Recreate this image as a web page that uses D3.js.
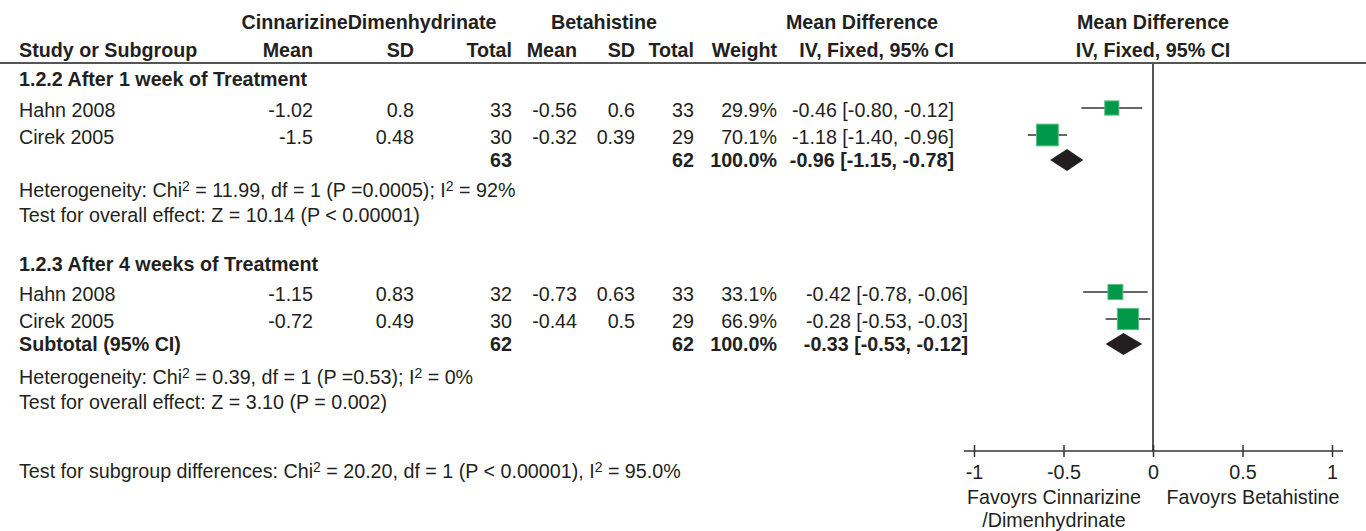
<!doctype html>
<html>
<head>
<meta charset="utf-8" />
<script src="https://d3js.org/d3.v7.min.js"></script>
<style>
  body { margin: 0; background: #fff; }
  svg text { font-family: "Liberation Sans", Arial, sans-serif; font-size: 19.7px; fill: #231f20; }
</style>
</head>
<body>
<div id="forest"></div>
<script type="text/javascript">

// ---- data ----
var groupTitles = ["1.2.2 After 1 week of Treatment", "1.2.3 After 4 weeks of Treatment"];

var studies    = ["Hahn 2008", "Cirek 2005", "Hahn 2008", "Cirek 2005"];
var studyGroup = [0, 0, 1, 1];
var cinMean  = [-1.02, -1.5, -1.15, -0.72];
var cinSD    = [0.8, 0.48, 0.83, 0.49];
var cinTotal = [33, 30, 32, 30];
var betMean  = [-0.56, -0.32, -0.73, -0.44];
var betSD    = [0.6, 0.39, 0.63, 0.5];
var betTotal = [33, 29, 33, 29];
var weights  = [29.9, 70.1, 33.1, 66.9];
var md       = [-0.46, -1.18, -0.42, -0.28];
var mdLow    = [-0.80, -1.40, -0.78, -0.53];
var mdHigh   = [-0.12, -0.96, -0.06, -0.03];

var subLabel  = ["", "Subtotal (95% CI)"];
var subCin    = [63, 62];
var subBet    = [62, 62];
var subWeight = [100, 100];
var subMd     = [-0.96, -0.33];
var subLow    = [-1.15, -0.53];
var subHigh   = [-0.78, -0.12];

var heterogeneity = ["Heterogeneity: Chi^2 = 11.99, df = 1 (P =0.0005); I^2 = 92%",
                     "Heterogeneity: Chi^2 = 0.39, df = 1 (P =0.53); I^2 = 0%"];
var overallEffect = ["Test for overall effect: Z = 10.14 (P < 0.00001)",
                     "Test for overall effect: Z = 3.10 (P = 0.002)"];
var subgroupDiff = "Test for subgroup differences: Chi^2 = 20.20, df = 1 (P < 0.00001), I^2 = 95.0%";

// the printed axis labels sit on every second unit of the drawn scale
var tickValues = [-2, -1, 0, 1, 2];
var tickLabels = ["-1", "-0.5", "0", "0.5", "1"];
var favourLeft = ["Favoyrs Cinnarizine", "/Dimenhydrinate"];
var favourRight = "Favoyrs Betahistine";

// ---- layout ----
var W = 1366, H = 531;
var col = {study: 19, cMean: 313, cSD: 414, cTotal: 512, bMean: 577, bSD: 635, bTotal: 694, weight: 777};
var ciRight = [954, 968];
var groupY = [86, 271];
var studyY = [117, 144, 301, 328];
var subY = [167, 351];
var hetY = [197, 384], overallY = [222, 409];
var axisY = 451, lineY = 63;

var svg = d3.select("#forest").append("svg").attr("width", W).attr("height", H);

var x = d3.scaleLinear().domain([-2, 2]).range([974, 1332]);
var boxSize = d3.scaleSqrt().domain([0, 100]).range([0, 26]);

function fmt2(v) { return v.toFixed(2); }
function ciText(m, lo, hi) { return fmt2(m) + " [" + fmt2(lo) + ", " + fmt2(hi) + "]"; }

function txt(s, xx, yy, anchor, bold) {
        return svg.append("text").attr("x", xx).attr("y", yy)
          .attr("text-anchor", anchor || "start")
          .style("font-weight", bold ? "bold" : null)
          .text(s);
}

// text with "^2" turned into superscripts
function supText(s, xx, yy) {
        var t = svg.append("text").attr("x", xx).attr("y", yy);
        var parts = s.split("^2");
        parts.forEach(function(p, i) {
                t.append("tspan").attr("dy", i == 0 ? 0 : 6).text(p);
                if (i < parts.length - 1)
                        t.append("tspan").attr("dy", -6).style("font-size", "14px").text("2");
        });
}

// header
txt("CinnarizineDimenhydrinate", 369, 29, "middle", true);
txt("Betahistine", 604, 29, "middle", true);
txt("Mean Difference", 862, 29, "middle", true);
txt("Mean Difference", 1153, 29, "middle", true);
txt("Study or Subgroup", col.study, 57, "start", true);
txt("Mean", col.cMean, 57, "end", true);
txt("SD", col.cSD, 57, "end", true);
txt("Total", col.cTotal, 57, "end", true);
txt("Mean", col.bMean, 57, "end", true);
txt("SD", col.bSD, 57, "end", true);
txt("Total", col.bTotal, 57, "end", true);
txt("Weight", col.weight, 57, "end", true);
txt("IV, Fixed, 95% CI", 954, 57, "end", true);
txt("IV, Fixed, 95% CI", 1153, 57, "middle", true);

svg.append("line").attr("x1", 0).attr("x2", W).attr("y1", lineY).attr("y2", lineY)
  .attr("stroke", "#555").attr("stroke-width", 2);

// zero line
svg.append("line").attr("x1", x(0)).attr("x2", x(0)).attr("y1", lineY).attr("y2", axisY)
  .attr("stroke", "#555").attr("stroke-width", 2);

// groups
groupTitles.forEach(function(g, gi) {
        txt(g, col.study, groupY[gi], "start", true);
        txt(subLabel[gi], col.study, subY[gi], "start", true);
        txt(subCin[gi], col.cTotal, subY[gi], "end", true);
        txt(subBet[gi], col.bTotal, subY[gi], "end", true);
        txt(subWeight[gi].toFixed(1) + "%", col.weight, subY[gi], "end", true);
        txt(ciText(subMd[gi], subLow[gi], subHigh[gi]), ciRight[gi], subY[gi], "end", true);
        supText(heterogeneity[gi], col.study, hetY[gi]);
        txt(overallEffect[gi], col.study, overallY[gi]);
});

// study rows
studies.forEach(function(s, i) {
        var yy = studyY[i], g = studyGroup[i];
        txt(s, col.study, yy);
        txt(String(cinMean[i]), col.cMean, yy, "end");
        txt(String(cinSD[i]), col.cSD, yy, "end");
        txt(cinTotal[i], col.cTotal, yy, "end");
        txt(String(betMean[i]), col.bMean, yy, "end");
        txt(String(betSD[i]), col.bSD, yy, "end");
        txt(betTotal[i], col.bTotal, yy, "end");
        txt(weights[i].toFixed(1) + "%", col.weight, yy, "end");
        txt(ciText(md[i], mdLow[i], mdHigh[i]), ciRight[g], yy, "end");
});

// CI whiskers and boxes
var marks = svg.append("g");
marks.selectAll("line.ci").data(d3.range(studies.length)).enter()
  .append("line").attr("class", "ci")
  .attr("x1", i => x(mdLow[i])).attr("x2", i => x(mdHigh[i]))
  .attr("y1", i => studyY[i] - 9).attr("y2", i => studyY[i] - 9)
  .attr("stroke", "#333").attr("stroke-width", 1.5);
marks.selectAll("rect.box").data(d3.range(studies.length)).enter()
  .append("rect").attr("class", "box")
  .attr("x", i => x(md[i]) - boxSize(weights[i]) / 2)
  .attr("y", i => studyY[i] - 9 - boxSize(weights[i]) / 2)
  .attr("width", i => boxSize(weights[i]))
  .attr("height", i => boxSize(weights[i]))
  .attr("fill", "#00984a").attr("stroke", "#5cbf86").attr("stroke-width", 1);

// pooled diamonds
marks.selectAll("path.diamond").data(d3.range(groupTitles.length)).enter()
  .append("path").attr("class", "diamond")
  .attr("d", function(i) {
        var cy = subY[i] - 7, h = 11;
        return "M" + x(subLow[i]) + "," + cy + "L" + x(subMd[i]) + "," + (cy - h) +
               "L" + x(subHigh[i]) + "," + cy + "L" + x(subMd[i]) + "," + (cy + h) + "Z";
  })
  .attr("fill", "#231f20");

// subgroup differences
supText(subgroupDiff, col.study, 478);

// axis
var axis = svg.append("g").attr("transform", "translate(0," + axisY + ")")
  .call(d3.axisBottom(x).tickValues(tickValues).tickSize(6).tickSizeOuter(0)
        .tickFormat((d, i) => tickLabels[i]));
axis.select(".domain").remove();
axis.append("line").attr("x1", 964).attr("x2", 1343).attr("y1", 0).attr("y2", 0)
  .attr("stroke", "#333").attr("stroke-width", 1.5);
axis.selectAll(".tick line").attr("y1", -6).attr("y2", 6).attr("stroke", "#333").attr("stroke-width", 1.5);
axis.selectAll(".tick text").attr("y", 28).attr("dy", 0)
  .style("font-size", "19.7px").style("font-family", null).attr("fill", "#231f20");
axis.attr("font-size", null).attr("font-family", null);

txt(favourLeft[0], 1054, 504, "middle");
txt(favourLeft[1], 1054, 527, "middle");
txt(favourRight, 1253, 504, "middle");

</script>
</body>
</html>
